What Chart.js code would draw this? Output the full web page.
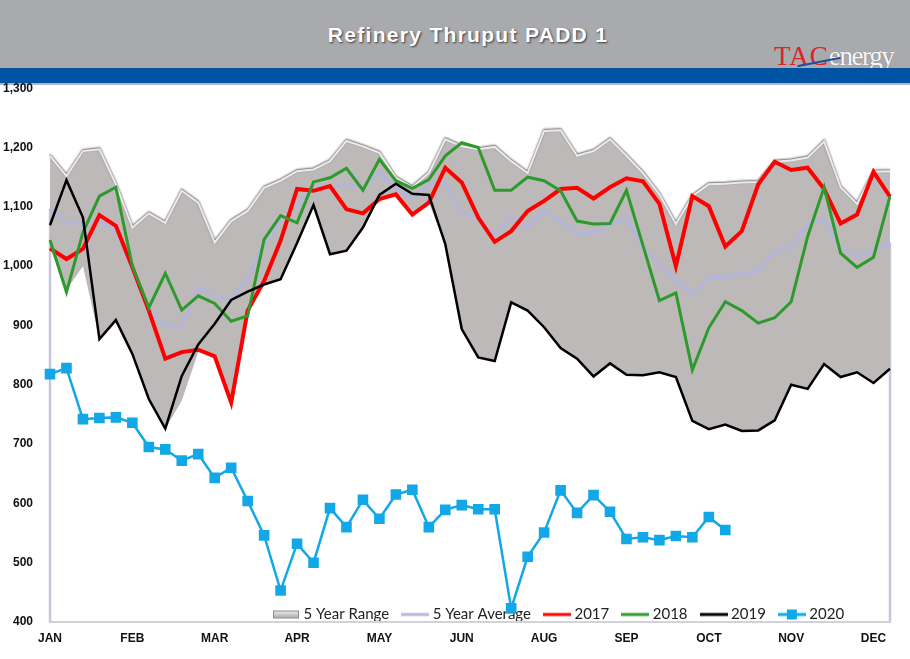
<!DOCTYPE html>
<html>
<head>
<meta charset="utf-8">
<title>Refinery Thruput PADD 1</title>
<script src="https://cdn.jsdelivr.net/npm/chart.js@4.4.0/dist/chart.umd.min.js"></script>
<style>
  body { margin: 0; width: 910px; height: 659px; overflow: hidden; background: #fff; position: relative; font-family: "Liberation Sans", Arial, sans-serif; }
  #bar { position: absolute; left: 0; top: 0; width: 910px; height: 68px; background: #a9aaae; }
  #title { position: absolute; left: 13px; width: 910px; top: 23px; text-align: center; color: #fff; font-weight: bold; font-size: 21px; letter-spacing: 1.3px; text-shadow: 1px 1px 2px #3a3a3a; }
  #logo { position: absolute; left: 774px; top: 41px; font-family: "Liberation Serif", serif; font-size: 27px; white-space: nowrap; }
  #logo .tac { color: #d9242b; letter-spacing: 1px; }
  #logo .en { color: #f6f6f6; letter-spacing: -1.4px; text-shadow: 0 0 1px #777; }
  #swoosh { position: absolute; left: 797px; top: 61px; width: 44px; height: 2px; background: #1d4f9c; transform: rotate(-11deg); }
  #band { position: absolute; left: 0; top: 68px; width: 910px; height: 15px; background: #0153a4; border-bottom: 2px solid #a8b8cf; }
  #wrap { position: absolute; left: 0; top: 64px; width: 910px; height: 595px; }
</style>
</head>
<body>
<div id="bar">
  <div id="title">Refinery Thruput PADD 1</div>
  <div id="logo"><span class="tac">TAC</span><span class="en">energy</span></div>
  <div id="swoosh"></div>
</div>
<div id="band"></div>
<div id="wrap"><canvas id="chart"></canvas></div>
<script>
// weekly data, 52 weeks, month label every 5th week
const weeks = Array.from({ length: 52 }, (_, i) => i + 1);
const monthTicks = ["JAN", "FEB", "MAR", "APR", "MAY", "JUN", "AUG", "SEP", "OCT", "NOV", "DEC"];

const rangeHigh = [1186, 1152, 1194, 1197, 1138, 1065, 1089, 1073, 1127, 1107, 1040, 1076, 1093, 1132, 1144, 1160,
  1163, 1177, 1211, 1202, 1191, 1149, 1133, 1157, 1214, 1202, 1197, 1201, 1177, 1157, 1228, 1229, 1186, 1194,
  1214, 1186, 1157, 1121, 1071, 1118, 1138, 1139, 1141, 1142, 1176, 1178, 1183, 1210, 1133, 1105, 1159, 1160];
const rangeLow = [1030, 960, 1000, 877, 909, 852, 776, 726, 773, 855, 849, 770, 925, 969, 978, 1037,
  1103, 1020, 1026, 1065, 1113, 1121, 1087, 1107, 1037, 894, 846, 842, 939, 925, 897, 862, 844, 814,
  836, 817, 816, 821, 813, 739, 725, 733, 722, 723, 740, 800, 793, 835, 813, 821, 803, 827];
const avg5 = [1097, 1073, 1071, 1076, 1061, 992, 928, 900, 898, 963, 950, 942, 981, 1037, 1076, 1104,
  1132, 1132, 1137, 1133, 1157, 1129, 1115, 1138, 1141, 1088, 1085, 1051, 1082, 1066, 1093, 1076, 1054, 1056,
  1070, 1082, 1031, 1003, 975, 953, 980, 981, 988, 992, 1025, 1031, 1071, 1079, 1029, 1017, 1027, 1040];
const y2017 = [1030, 1012, 1029, 1086, 1068, 998, 925, 844, 855, 859, 848, 770, 925, 975, 1043, 1130,
  1127, 1135, 1096, 1089, 1113, 1121, 1087, 1107, 1166, 1141, 1082, 1041, 1059, 1093, 1110, 1130, 1132, 1114,
  1133, 1148, 1143, 1105, 1000, 1118, 1101, 1033, 1059, 1138, 1176, 1162, 1166, 1130, 1072, 1087, 1159, 1117];
const y2018 = [1044, 956, 1057, 1118, 1133, 1000, 930, 988, 926, 950, 937, 907, 916, 1045, 1085, 1073,
  1142, 1149, 1165, 1128, 1180, 1144, 1131, 1146, 1186, 1208, 1200, 1128, 1128, 1150, 1144, 1127, 1076, 1071,
  1072, 1128, 1035, 942, 955, 825, 896, 940, 925, 904, 913, 940, 1050, 1133, 1022, 998, 1015, 1118];
const y2019 = [1069, 1145, 1082, 877, 909, 852, 776, 726, 815, 868, 903, 943, 957, 969, 978, 1039,
  1103, 1020, 1026, 1065, 1120, 1139, 1122, 1120, 1037, 894, 846, 840, 939, 925, 897, 862, 844, 814,
  836, 817, 816, 821, 813, 739, 725, 733, 722, 723, 740, 800, 793, 835, 813, 821, 803, 827];
const y2020 = [818, 828, 742, 744, 745, 736, 695, 691, 672, 683, 643, 660, 604, 546, 453, 532,
  500, 592, 560, 606, 574, 615, 623, 560, 589, 597, 590, 590, 423, 510, 551, 622, 584, 614,
  586, 540, 543, 538, 545, 543, 577, 555];

// little legend glyphs
function glyph(draw) {
  const c = document.createElement("canvas");
  c.width = 28; c.height = 12;
  draw(c.getContext("2d"));
  return c;
}
function lineGlyph(color, w) {
  return glyph(g => { g.strokeStyle = color; g.lineWidth = w; g.beginPath(); g.moveTo(0, 6); g.lineTo(28, 6); g.stroke(); });
}
const glyphs = [
  glyph(g => {
    const grad = g.createLinearGradient(0, 2, 0, 10);
    grad.addColorStop(0, "#f2f2f2"); grad.addColorStop(1, "#a9a5a4");
    g.fillStyle = grad; g.fillRect(1, 2, 26, 8);
    g.strokeStyle = "#8e8a8a"; g.lineWidth = 1; g.strokeRect(1.5, 2.5, 25, 7);
  }),
  null,
  lineGlyph("#b4b6d9", 3),
  lineGlyph("#ff0000", 3),
  lineGlyph("#2e9a2e", 3),
  lineGlyph("#000000", 3),
  glyph(g => {
    g.strokeStyle = "#12a7e6"; g.lineWidth = 3; g.beginPath(); g.moveTo(0, 6); g.lineTo(28, 6); g.stroke();
    g.fillStyle = "#12a7e6"; g.fillRect(9, 1, 10, 10);
  })
];

// Excel draws the area edges down to the axis at both ends
const areaEdges = {
  id: "areaEdges",
  beforeDatasetsDraw(chart) {
    const { ctx, scales: { x, y } } = chart;
    ctx.save();
    ctx.strokeStyle = "#c6c7dd";
    ctx.lineWidth = 2.5;
    [0, avg5.length - 1].forEach(i => {
      const px = x.getPixelForValue(i);
      ctx.beginPath();
      ctx.moveTo(px, y.getPixelForValue(avg5[i]));
      ctx.lineTo(px, y.bottom);
      ctx.stroke();
    });
    ctx.restore();
  }
};

// bevel look on the top edge of the range band
const bevel = {
  id: "bevel",
  beforeDatasetDraw(chart, args) {
    if (args.index !== 0) return;
    const ctx = chart.ctx;
    ctx.save();
    ctx.shadowColor = "rgba(70,70,70,0.85)";
    ctx.shadowBlur = 2;
    ctx.shadowOffsetY = -1;
  },
  afterDatasetDraw(chart, args) {
    if (args.index === 0) chart.ctx.restore();
  }
};

// put the legend inside the plot, just above the x axis
const legendInside = {
  id: "legendInside",
  beforeDraw(chart) {
    const lg = chart.legend, a = chart.chartArea;
    lg.left = a.left + 210;
    lg.right = chart.width;
    lg.top = a.bottom - 31;
    lg.bottom = a.bottom;
  }
};

new Chart(document.getElementById("chart"), {
  type: "line",
  data: {
    labels: weeks,
    datasets: [
      { label: "5 Year Range", data: rangeHigh, fill: "+1", backgroundColor: "#bdb9b8", borderColor: "#eceaea", borderWidth: 2, order: 10 },
      { label: "low", data: rangeLow, fill: false, borderWidth: 0, borderColor: "rgba(0,0,0,0)", order: 9 },
      { label: "5 Year Average", data: avg5, borderColor: "#b4b6d9", borderWidth: 3.5, order: 5 },
      { label: "2017", data: y2017, borderColor: "#ff0000", borderWidth: 4, order: 4 },
      { label: "2018", data: y2018, borderColor: "#2e9a2e", borderWidth: 3, order: 3 },
      { label: "2019", data: y2019, borderColor: "#000000", borderWidth: 2.5, order: 2 },
      { label: "2020", data: y2020, borderColor: "#12a7e6", backgroundColor: "#12a7e6", borderWidth: 2.5,
        pointStyle: "rect", pointRadius: 7.5, pointBorderWidth: 0, order: 1 }
    ]
  },
  options: {
    responsive: true,
    maintainAspectRatio: false,
    animation: false,
    layout: { padding: { top: 11, right: 20, left: 0, bottom: 0 } },
    elements: { line: { tension: 0 }, point: { radius: 0 } },
    plugins: {
      tooltip: { enabled: false },
      legend: {
        position: "bottom",
        align: "start",
        maxHeight: 1,
        labels: {
          usePointStyle: true,
          pointStyleWidth: 20,
          boxHeight: 12,
          padding: 16,
          color: "#222",
          font: { family: "Lato", size: 15 },
          generateLabels(chart) {
            const items = Chart.defaults.plugins.legend.labels.generateLabels(chart);
            items.forEach(it => { it.pointStyle = glyphs[it.datasetIndex]; });
            return items;
          },
          filter: item => item.datasetIndex !== 1,
          sort: (a, b) => a.datasetIndex - b.datasetIndex
        }
      }
    },
    scales: {
      x: {
        grid: { display: false, drawTicks: false },
        border: { display: true, color: "#d2d2da", width: 2 },
        afterFit(s) { s.height = 36; },
        ticks: {
          autoSkip: false,
          maxRotation: 0,
          minRotation: 0,
          padding: 9,
          color: "#111",
          font: { family: "Liberation Sans", size: 12, weight: "bold" },
          callback: (v, i) => (i % 5 === 0 ? monthTicks[i / 5] : "")
        }
      },
      y: {
        min: 400,
        max: 1300,
        grid: { display: false, drawTicks: false },
        border: { display: false },
        afterFit(s) { s.width = 50; },
        ticks: {
          stepSize: 100,
          padding: 17,
          color: "#111",
          font: { family: "Liberation Sans", size: 12, weight: "bold" },
          callback: v => v.toLocaleString("en-US")
        }
      }
    }
  },
  plugins: [areaEdges, bevel, legendInside]
});
</script>
</body>
</html>
